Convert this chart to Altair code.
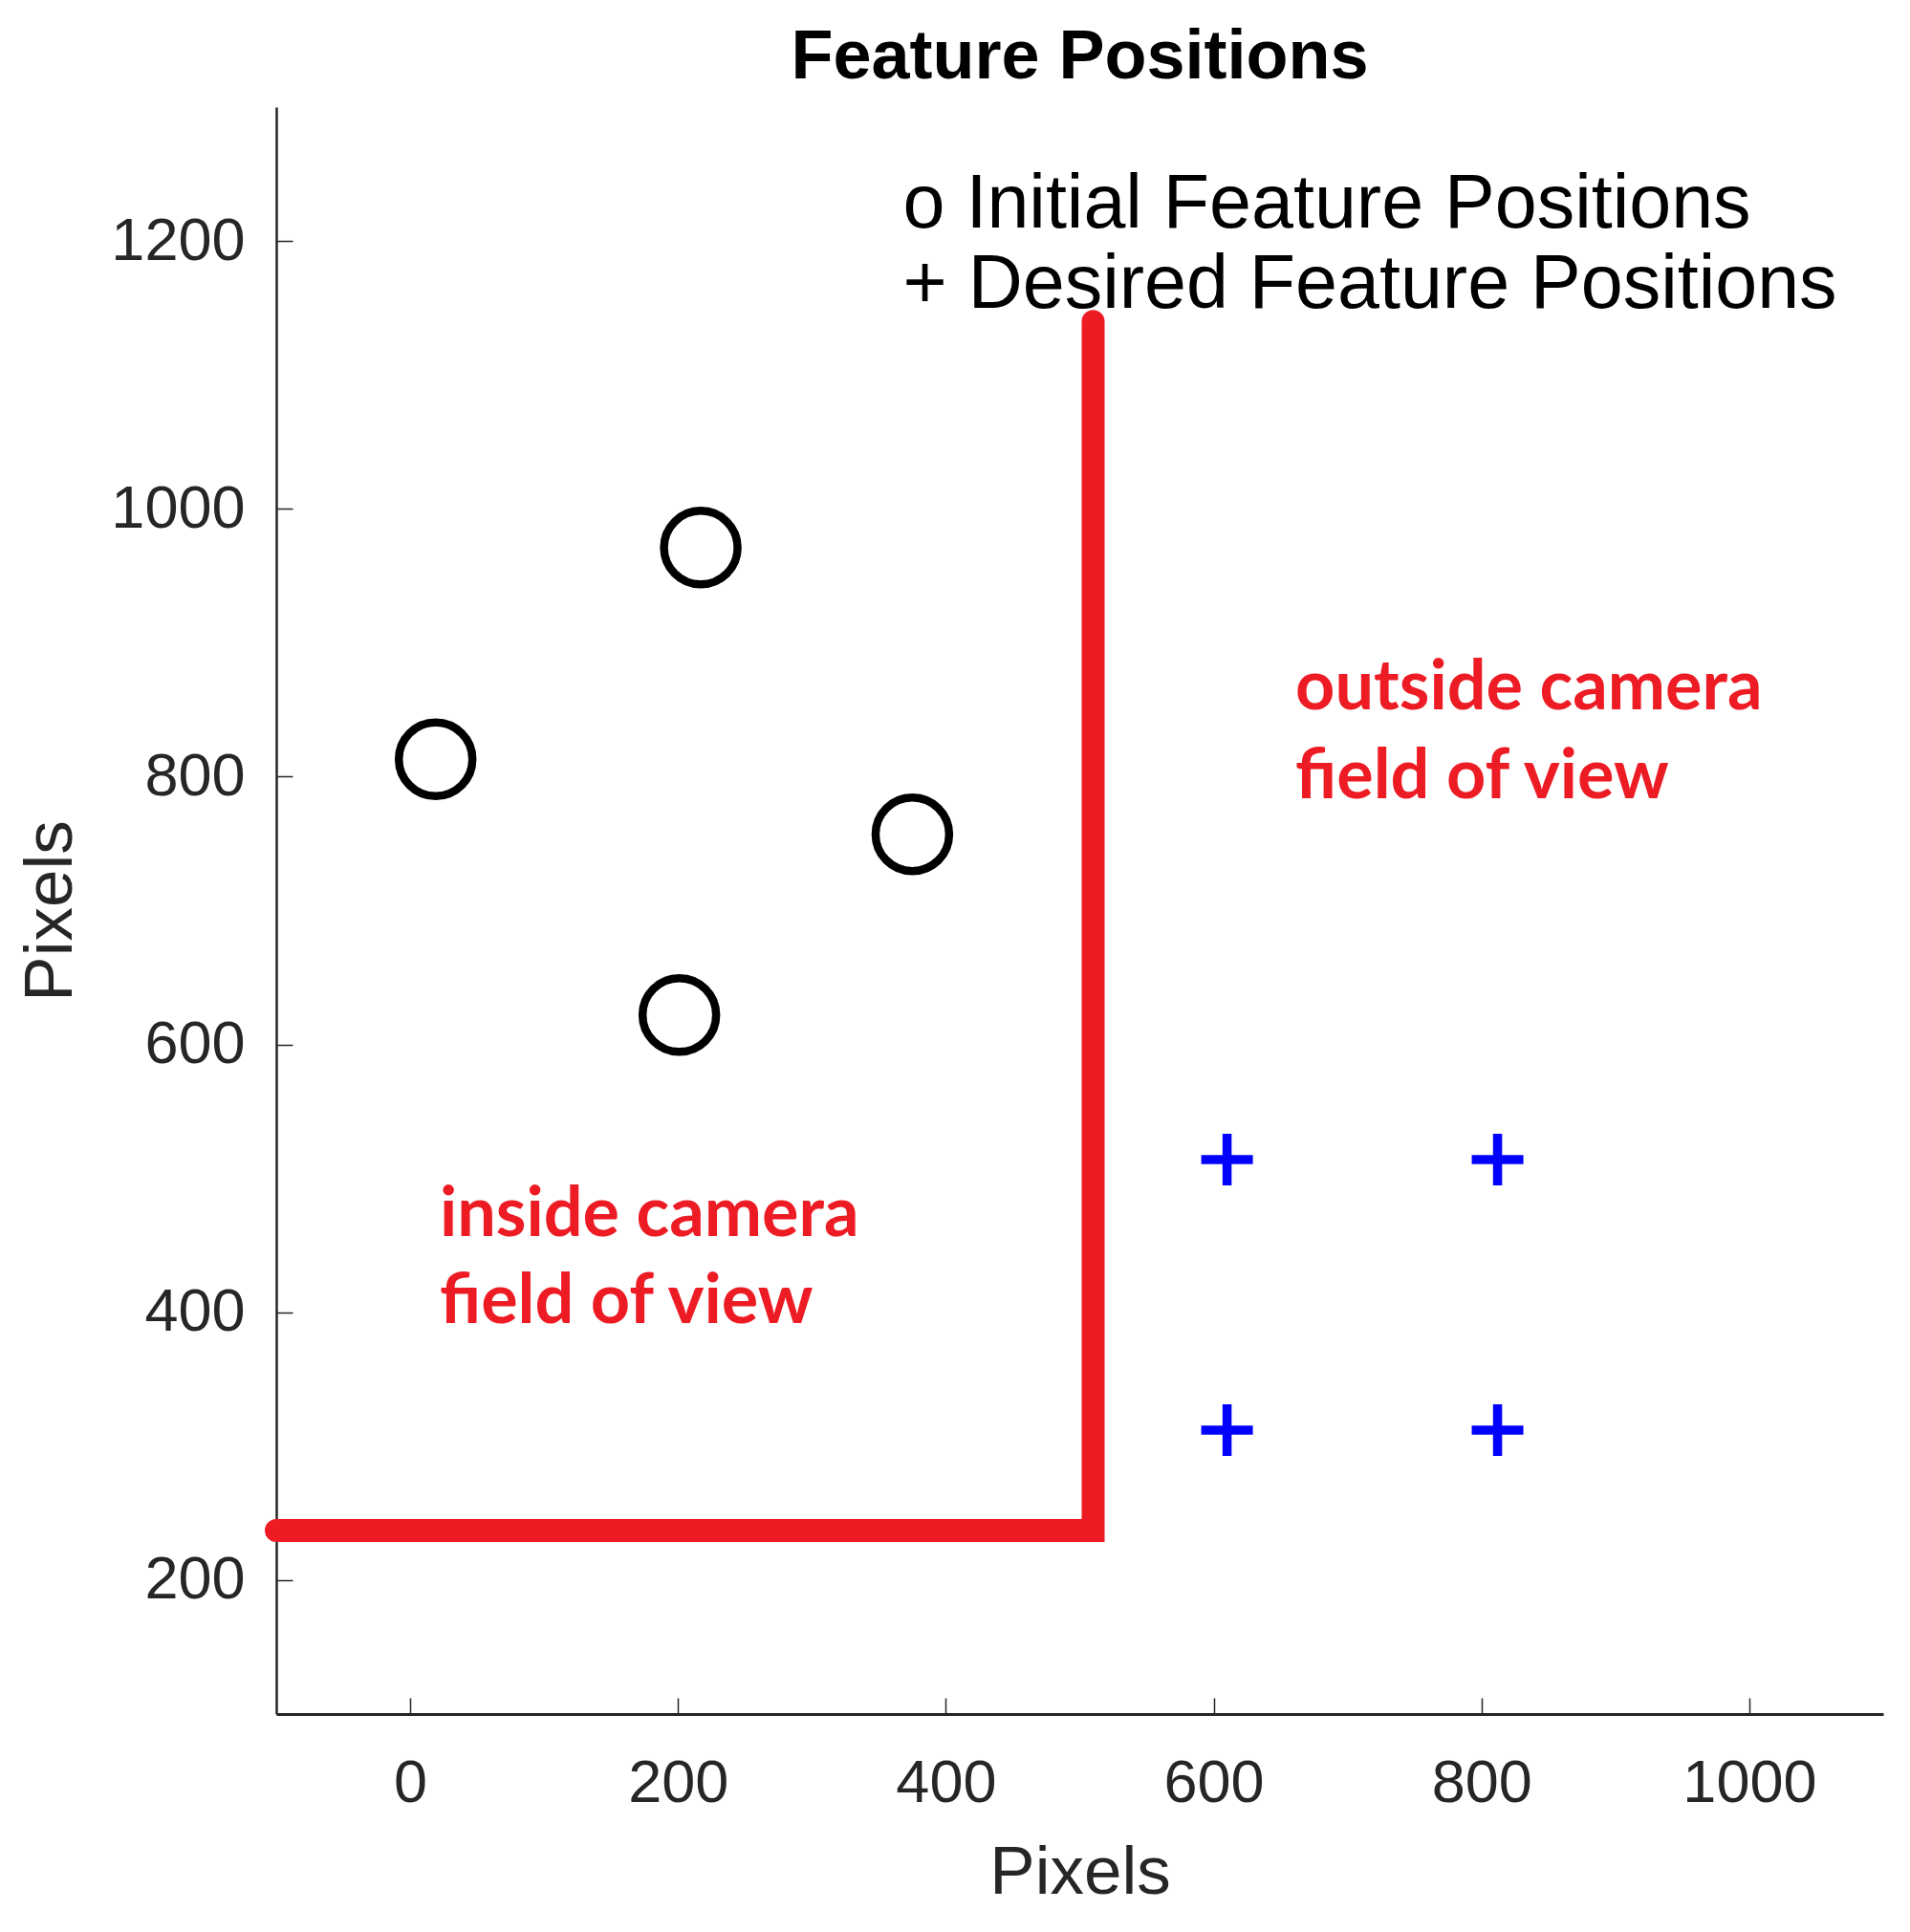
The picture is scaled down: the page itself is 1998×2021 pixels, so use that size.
import altair as alt
import pandas as pd

# ---- data ----
initial_x = [19, 217, 375, 201]
initial_y = [813, 971, 757, 622]

desired_x = [610, 812, 610, 812]
desired_y = [514, 514, 312, 312]

boundary_x = [-100, 510, 510]
boundary_y = [237, 237, 1140]
boundary_order = [0, 1, 2]

legend_text = ["o Initial Feature Positions", "+ Desired Feature Positions"]
legend_x = [368, 368]
legend_y = [1210, 1150]

region_text = ["outside camera", "field of view", "inside camera", "field of view"]
region_x = [661, 661, 22, 22]
region_y = [850, 784, 457, 392]

x_ticks = [0, 200, 400, 600, 800, 1000]
y_ticks = [200, 400, 600, 800, 1000, 1200]
x_domain = [-100, 1100]
y_domain = [100, 1300]

RED = "#ED1C24"
AXIS_COL = "#262626"
PLOT_W = 1681
PLOT_H = 1681
TICK_LEN = 17

xs = alt.Scale(domain=x_domain, nice=False, zero=False)
ys = alt.Scale(domain=y_domain, nice=False, zero=False)

x_axis = alt.Axis(
    values=x_ticks, format="d", title="Pixels", grid=True,
    gridDash=[0, PLOT_H - TICK_LEN, TICK_LEN, 4000],
    gridColor=AXIS_COL, gridWidth=1.5, gridOpacity=1, ticks=False, tickSize=0,
    domainColor=AXIS_COL, domainWidth=3, labelFont="Liberation Sans",
    labelFontSize=63, labelColor=AXIS_COL, labelPadding=41,
    titleFont="Liberation Sans", titleFontSize=71, titleFontWeight="normal",
    titleColor=AXIS_COL, titlePadding=27,
)
y_axis = alt.Axis(
    values=y_ticks, format="d", title="Pixels", grid=True,
    gridDash=[TICK_LEN, 4000],
    gridColor=AXIS_COL, gridWidth=1.5, gridOpacity=1, ticks=False, tickSize=0,
    domainColor=AXIS_COL, domainWidth=2.5, labelFont="Liberation Sans",
    labelFontSize=63, labelColor=AXIS_COL, labelPadding=33,
    titleFont="Liberation Sans", titleFontSize=71, titleFontWeight="normal",
    titleColor=AXIS_COL, titlePadding=26,
)

df_line = pd.DataFrame({"x": boundary_x, "y": boundary_y, "o": boundary_order})
df_init = pd.DataFrame({"x": initial_x, "y": initial_y})
df_des = pd.DataFrame({"x": desired_x, "y": desired_y})
df_leg = pd.DataFrame({"x": legend_x, "y": legend_y, "t": legend_text})
df_reg = pd.DataFrame({"x": region_x, "y": region_y, "t": region_text})

line = alt.Chart(df_line).mark_line(
    color=RED, strokeWidth=24, strokeCap="round", strokeJoin="miter"
).encode(
    x=alt.X("x:Q", scale=xs, axis=x_axis),
    y=alt.Y("y:Q", scale=ys, axis=y_axis),
    order="o:Q",
)

circles = alt.Chart(df_init).mark_point(
    shape="circle", filled=False, stroke="black", strokeWidth=8.5,
    size=5929, opacity=1,
).encode(x=alt.X("x:Q", scale=xs), y=alt.Y("y:Q", scale=ys))

pluses = alt.Chart(df_des).mark_point(
    shape="M-1,0H1M0,-1V1", filled=False, stroke="#0000FF", strokeWidth=9.5,
    size=2916, opacity=1,
).encode(x=alt.X("x:Q", scale=xs), y=alt.Y("y:Q", scale=ys))

legend = alt.Chart(df_leg).mark_text(
    font="Liberation Sans", fontSize=79, color="black", align="left",
    baseline="alphabetic",
).encode(x=alt.X("x:Q", scale=xs), y=alt.Y("y:Q", scale=ys), text="t:N")

regions = alt.Chart(df_reg).mark_text(
    font="Lato", fontSize=72, fontWeight="bold", color=RED, align="left",
    baseline="alphabetic",
).encode(x=alt.X("x:Q", scale=xs), y=alt.Y("y:Q", scale=ys), text="t:N")

chart = alt.layer(line, circles, pluses, legend, regions).properties(
    width=PLOT_W,
    height=PLOT_H,
    title=alt.TitleParams(
        "Feature Positions", font="Liberation Sans", fontSize=72,
        fontWeight="bold", color="black", anchor="middle",
        baseline="alphabetic", offset=-42,
    ),
    autosize=alt.AutoSizeParams(type="none"),
    padding={"left": 281, "top": 104, "right": 20, "bottom": 220},
).configure(background="white").configure_view(stroke=None)

chart.save("out.html", embed_options={"renderer": "svg", "actions": False})
